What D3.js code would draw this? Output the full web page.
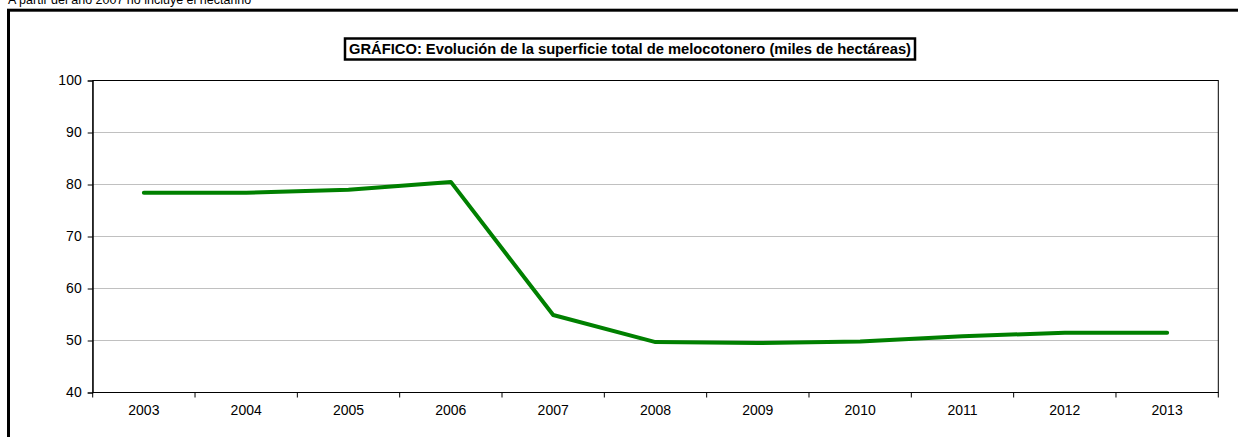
<!DOCTYPE html>
<html><head><meta charset="utf-8">
<script src="https://cdn.jsdelivr.net/npm/d3@7"></script>
<style>html,body{margin:0;padding:0;background:#fff;overflow:hidden}</style>
</head><body>
<svg id="c" width="1238" height="437"></svg>
<script>
const years = ["2003","2004","2005","2006","2007","2008","2009","2010","2011","2012","2013"];
const superficie = [78.4, 78.4, 79.0, 80.5, 54.9, 49.7, 49.5, 49.8, 50.8, 51.5, 51.5];
const yTicks = [40, 50, 60, 70, 80, 90, 100];
const titleText = "GRÁFICO: Evolución de la superficie total de melocotonero (miles de hectáreas)";
const noteText = "A partir del año 2007 no incluye el nectarino";

const svg = d3.select("#c");
const font = "'Liberation Sans', Arial, sans-serif";

// note at top (partially clipped, as in the reference)
svg.append("text").attr("x", 8).attr("y", 4).attr("font-family", font)
  .attr("font-size", 12.5).attr("fill", "#000").text(noteText);

// outer frame
svg.append("rect").attr("x", 8.5).attr("y", 10.2).attr("width", 1300).attr("height", 500)
  .attr("fill", "none").attr("stroke", "#000").attr("stroke-width", 3);

const L = 92.7, R = 1218.3, T = 80.5, B = 392.5;
const x = d3.scaleBand().domain(years).range([L, R]).padding(0);
const y = d3.scaleLinear().domain([40, 100]).range([B, T]);

// gridlines
svg.append("g").selectAll("line").data(yTicks.filter(v => v > 40 && v < 100)).join("line")
  .attr("x1", L).attr("x2", R).attr("y1", d => y(d)).attr("y2", d => y(d))
  .attr("stroke", "#c0c0c0").attr("stroke-width", 1);

// plot border
svg.append("rect").attr("x", L).attr("y", T).attr("width", R - L).attr("height", B - T)
  .attr("fill", "none").attr("stroke", "#000").attr("stroke-width", 1);

// y axis
const yAxis = d3.axisLeft(y).tickValues(yTicks).tickSize(5).tickPadding(6);
const gy = svg.append("g").attr("transform", `translate(${L},0)`).call(yAxis);
gy.select(".domain").attr("stroke", "#000");
gy.selectAll("text").attr("font-family", font).attr("font-size", 14).attr("fill", "#000");
gy.selectAll(".tick line").attr("stroke", "#000");

// x axis: labels centered, ticks at category boundaries
const gx = svg.append("g").attr("transform", `translate(0,${B})`);
gx.append("line").attr("x1", L).attr("x2", R).attr("y1", 0).attr("y2", 0).attr("stroke", "#000").attr("stroke-width", 1.2);
const bounds = years.map(d => x(d)).concat([R]);
gx.selectAll("line.tk").data(bounds).join("line").attr("class", "tk")
  .attr("x1", d => d).attr("x2", d => d).attr("y1", 0).attr("y2", 5).attr("stroke", "#000");
gx.selectAll("text").data(years).join("text")
  .attr("x", d => x(d) + x.bandwidth() / 2).attr("y", 22)
  .attr("text-anchor", "middle").attr("font-family", font).attr("font-size", 14).attr("fill", "#000")
  .text(d => d);

// line
const line = d3.line().x((d, i) => x(years[i]) + x.bandwidth() / 2).y(d => y(d));
svg.append("path").datum(superficie).attr("d", line)
  .attr("fill", "none").attr("stroke", "#008000").attr("stroke-width", 4)
  .attr("stroke-linejoin", "round").attr("stroke-linecap", "round");

// title box
const tbox = svg.append("rect").attr("x", 345).attr("y", 38.5).attr("width", 570).attr("height", 21)
  .attr("fill", "#fff").attr("stroke", "#000").attr("stroke-width", 2.5);
const tt = svg.append("text").attr("x", 630).attr("y", 54).attr("text-anchor", "middle")
  .attr("font-family", font).attr("font-size", 14).attr("font-weight", "bold").attr("fill", "#000")
  .attr("textLength", 562).attr("lengthAdjust", "spacingAndGlyphs")
  .text(titleText);
</script>
</body></html>
